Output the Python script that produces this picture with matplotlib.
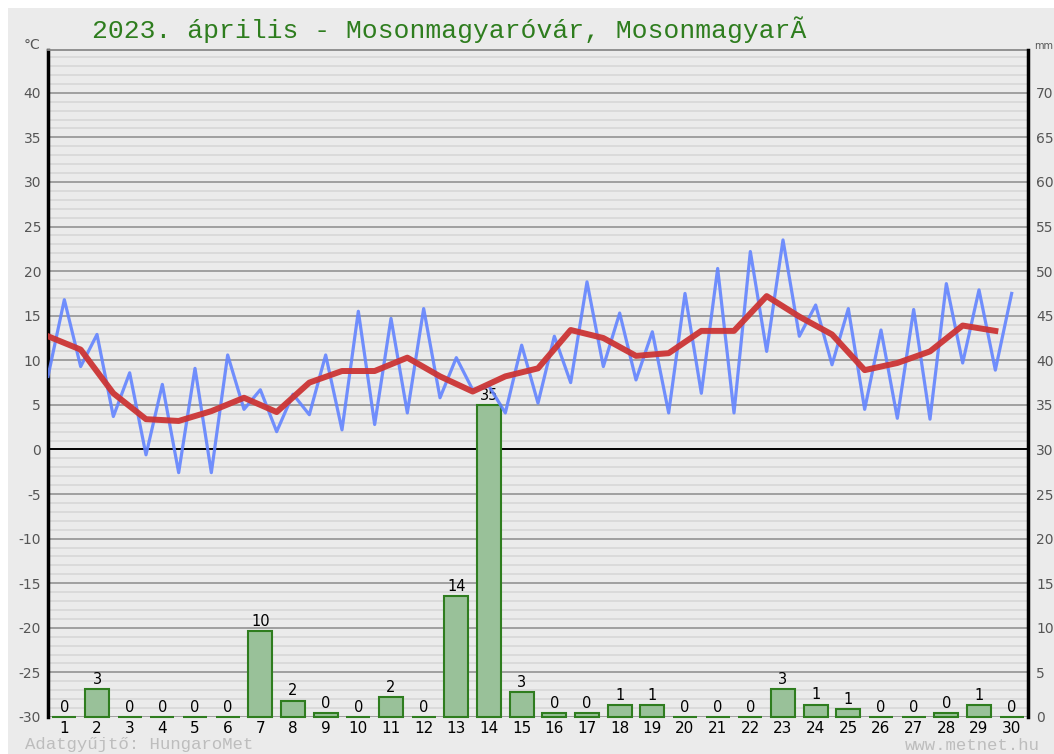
import matplotlib
matplotlib.use("Agg")
import matplotlib.pyplot as plt
from matplotlib.patches import Rectangle
import numpy as np

plt.rcParams["axes.unicode_minus"] = False

# daily data, April 2023
days = list(range(1, 31))
t_min = [8.2, 9.3, 3.7, -0.6, -2.6, -2.6, 4.5, 2.0, 3.9, 2.2,
         2.8, 4.1, 5.8, 6.7, 4.1, 5.2, 7.5, 9.3, 7.8, 4.1,
         6.3, 4.1, 11.0, 12.7, 9.5, 4.5, 3.5, 3.4, 9.7, 8.9]
t_max = [16.8, 12.9, 8.6, 7.3, 9.1, 10.6, 6.7, 6.2, 10.6, 15.5,
         14.7, 15.8, 10.3, 7.1, 11.7, 12.7, 18.8, 15.3, 13.2, 17.5,
         20.3, 22.2, 23.5, 16.2, 15.8, 13.4, 15.7, 18.6, 17.9, 17.5]
t_avg = [12.7, 11.2, 6.3, 3.4, 3.2, 4.3, 5.8, 4.2, 7.5, 8.8,
         8.8, 10.3, 8.2, 6.5, 8.2, 9.1, 13.4, 12.5, 10.5, 10.8,
         13.3, 13.3, 17.2, 14.9, 12.9, 8.9, 9.7, 11.0, 13.9, 13.3]
precip = [0, 3.15, 0, 0, 0, 0, 9.6, 1.85, 0.4, 0,
          2.25, 0, 13.6, 35.0, 2.8, 0.4, 0.4, 1.3, 1.3, 0,
          0, 0, 3.15, 1.4, 0.9, 0, 0, 0.4, 1.3, 0]

title = "2023. április - Mosonmagyaróvár, MosonmagyarÃ"
t_ticks = list(range(-30, 41, 5))
mm_ticks = list(range(0, 71, 5))

bg = "#ebebeb"
W, H = 1054, 754
fig = plt.figure(figsize=(W / 100, H / 100), dpi=100)
fig.patch.set_facecolor("white")
fig.patches.append(Rectangle((8 / W, 0), 1, 1 - 8 / H, transform=fig.transFigure,
                             facecolor=bg, edgecolor="none", zorder=-10))

left_px, right_px, top_px, bottom_px = 48, 1028, 50, 717
ax = fig.add_axes([left_px / W, 1 - bottom_px / H,
                   (right_px - left_px) / W, (bottom_px - top_px) / H])
ax.set_facecolor(bg)
ylo, yhi = -30, 44.8
ax.set_xlim(0.5, 30.5)
ax.set_ylim(ylo, yhi)

# grid: minor every 1 deg, major every 5
for v in np.arange(-29, 45, 1):
    if v % 5:
        ax.axhline(v, color="#dadada", lw=1.4, zorder=0.5)
for v in t_ticks:
    if v != 0:
        ax.axhline(v, color="#9a9a9a", lw=1.3, zorder=0.6)
ax.axhline(0, color="black", lw=1.4, zorder=0.7)

# precipitation bars (mm, offset onto the temperature scale)
bars = ax.bar(days, precip, width=0.73, bottom=ylo, color="#99c199",
              edgecolor="#2f7d1f", linewidth=1.5, zorder=2, clip_on=False)
for d, p in zip(days, precip):
    ax.annotate(f"{p:.0f}", (d, ylo + p), xytext=(0, 1.5), textcoords="offset points",
                ha="center", va="bottom", fontsize=10.5, color="black", zorder=2.5)

# min/max zigzag and daily mean
xs, ys = [], []
for d, lo, hi in zip(days, t_min, t_max):
    xs += [d - 0.5, d]
    ys += [lo, hi]
ax.plot(xs, ys, color="#6384ff", lw=2.3, alpha=0.9, zorder=3)
ax.plot([d - 0.5 for d in days], t_avg, color="#cc3535", lw=4.3, alpha=0.95, zorder=4)

ax.set_yticks(t_ticks)
ax.set_xticks(days)
ax.set_xticklabels([str(d) for d in days], fontsize=11)
ax.tick_params(axis="y", length=0, pad=5, labelsize=10, labelcolor="#555555")
ax.tick_params(axis="x", length=0, pad=3, labelcolor="black")
ax.spines["bottom"].set_visible(False)
ax.spines["left"].set_linewidth(2.5)
ax.spines["left"].set_color("black")
ax.spines["right"].set_visible(False)
ax.spines["top"].set_color("#8a8a8a")
ax.spines["top"].set_linewidth(1.3)

ax2 = ax.twinx()
ax2.set_ylim(ylo + 30, yhi + 30)
ax2.set_yticks(mm_ticks)
ax2.tick_params(axis="y", length=0, pad=6, labelsize=10, labelcolor="#555555")
for s in ["top", "bottom", "left"]:
    ax2.spines[s].set_visible(False)
ax2.spines["right"].set_linewidth(2.5)
ax2.spines["right"].set_color("black")

fig.text(24 / W, 1 - 45 / H, "°C", fontsize=10, color="#555555", va="center")
fig.text(1034 / W, 1 - 46 / H, "mm", fontsize=7, color="#555555", va="center")
fig.text(92 / W, 1 - 30 / H, title, fontsize=19, family="Liberation Mono",
         color="#2e7d1e", va="center", ha="left")
fig.text(25 / W, 1 - 745 / H, "Adatgyűjtő: HungaroMet", fontsize=12.5,
         family="Liberation Mono", color="#bdbdbd", va="center", ha="left")
fig.text(1040 / W, 1 - 745 / H, "www.metnet.hu", fontsize=12.5,
         family="Liberation Mono", color="#bdbdbd", va="center", ha="right")

fig.savefig("out.png", dpi=100)
